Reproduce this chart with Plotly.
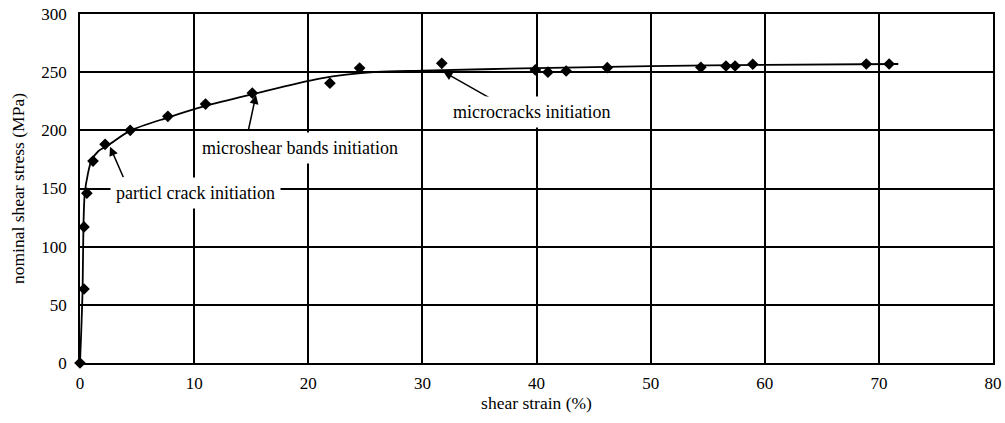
import plotly.graph_objects as go

# measured points
strain = [0, 0.35, 0.35, 0.6, 1.14, 2.2, 4.4, 7.7, 11.0, 15.1, 21.9, 24.5, 31.7,
          39.9, 41.0, 42.6, 46.2, 54.4, 56.6, 57.4, 58.95, 68.9, 70.9]
stress = [0, 63.6, 117, 146, 173.6, 188, 200, 212, 222.6, 232, 240.5, 253.5, 257.6,
          251.9, 250.0, 251.0, 253.9, 254.2, 255.3, 255.3, 256.8, 257.0, 257.0]

# fitted curve
fit_strain = [0, 0.1, 0.23, 0.3, 0.42, 0.7, 1.0, 1.6, 2.6, 4.4, 7.7, 11.0, 15.1,
              21.0, 26.0, 30.0, 40.0, 50.0, 60.0, 71.7]
fit_stress = [0, 25, 64, 117, 146, 163, 174, 182, 188, 199.7, 211, 221, 231,
              244.5, 250.2, 251.3, 253.5, 255.2, 256.3, 257.0]

x_ticks = [0, 10, 20, 30, 40, 50, 60, 70, 80]
y_ticks = [0, 50, 100, 150, 200, 250, 300]

FONT = "Liberation Serif"

fig = go.Figure()
fig.add_trace(go.Scatter(x=fit_strain, y=fit_stress, mode="lines",
                         line=dict(color="black", width=1.8, shape="spline", smoothing=0.8),
                         hoverinfo="skip", showlegend=False))
fig.add_trace(go.Scatter(x=strain, y=stress, mode="markers",
                         marker=dict(symbol="diamond", size=9, color="black"),
                         cliponaxis=False, showlegend=False))

axis_common = dict(showline=True, mirror=True, linecolor="black", linewidth=1.5,
                   showgrid=True, gridcolor="black", gridwidth=1.5, zeroline=False,
                   automargin=False, ticks="", ticklabeloverflow="allow",
                   tickfont=dict(family=FONT, size=17, color="black"))

fig.update_xaxes(range=[0, 80], tickvals=x_ticks, ticklabelstandoff=4,
                 title=dict(text="shear strain (%)", font=dict(family=FONT, size=17.5, color="black"),
                            standoff=3),
                 **axis_common)
fig.update_yaxes(range=[0, 300], tickvals=y_ticks, ticklabelstandoff=8,
                 title=dict(text="nominal shear stress (MPa)",
                            font=dict(family=FONT, size=17.5, color="black"), standoff=12),
                 **axis_common)

# arrows
arrows = [
    dict(x=2.63, y=185.9, ax=14, ay=32),
    dict(x=15.42, y=230.4, ax=-8, ay=37),
    dict(x=31.84, y=250.4, ax=53, ay=30),
]
for a in arrows:
    fig.add_annotation(x=a["x"], y=a["y"], ax=a["ax"], ay=a["ay"], text="",
                       showarrow=True, arrowhead=2, arrowsize=1.2, arrowwidth=1.5,
                       arrowcolor="black")

labels = [
    dict(x=10.08, y=146.3, text="particl crack initiation"),
    dict(x=19.28, y=184.8, text="microshear bands initiation"),
    dict(x=39.6, y=215.8, text="microcracks initiation"),
]
for l in labels:
    fig.add_annotation(x=l["x"], y=l["y"], text=l["text"], showarrow=False,
                       font=dict(family=FONT, size=18, color="black"),
                       bgcolor="white", borderpad=5)

fig.update_layout(width=1005, height=423, margin=dict(l=80, r=12, t=14, b=60),
                  plot_bgcolor="white", paper_bgcolor="white")

# remove the default page margin so the figure fills the window exactly
fig.write_html("out.html", config={"displayModeBar": False},
               post_script="document.body.style.margin='0';")
